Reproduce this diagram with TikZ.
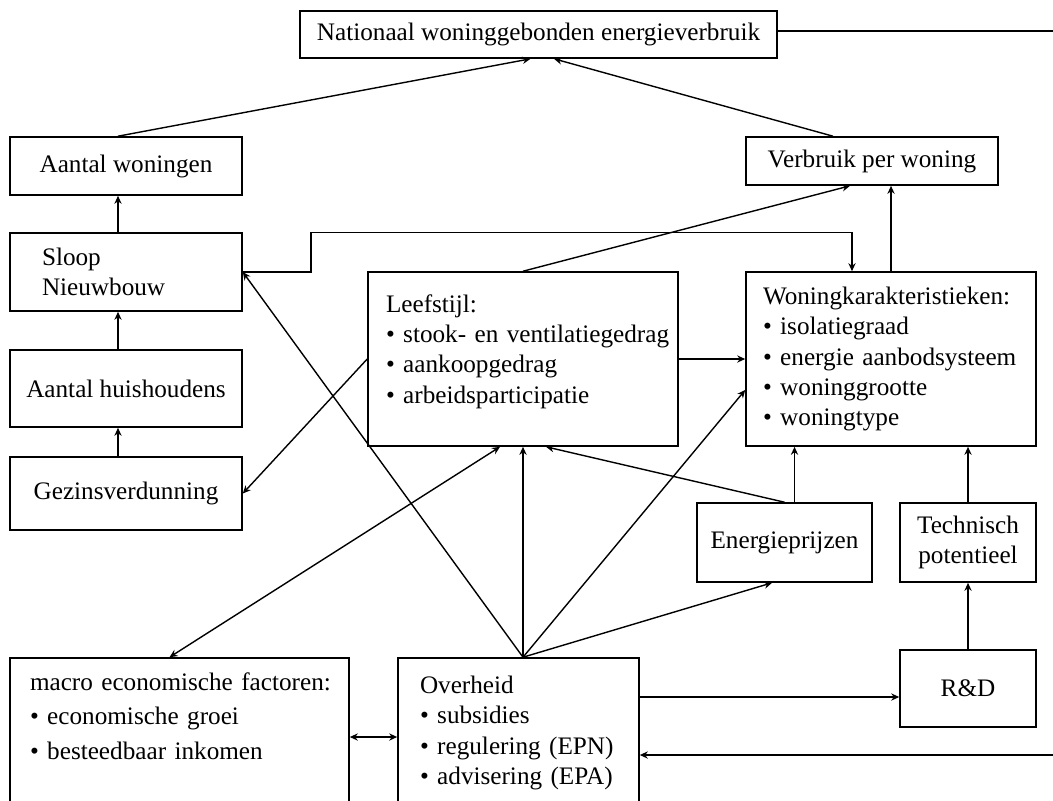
\documentclass[tikz,border=0pt]{standalone}
\usepackage{fontspec}
\setmainfont{Liberation Serif}
\usetikzlibrary{arrows.meta, positioning}

\begin{document}
\begin{tikzpicture}[x=0.5pt, y=-0.5pt,
    every node/.style={font=\fontsize{12.6}{15.2}\selectfont},
    box/.style={draw, line width=0.8pt, inner sep=0pt, align=center},
    listbox/.style={box, align=left},
    >={Stealth[length=4pt, width=3.6pt]}, line width=0.7pt,
  ]
  \useasboundingbox (0,0) rectangle (1053,800);
  \clip (0,0) rectangle (1053,800);
  % boxes
  \node[box, minimum width=238.5pt, minimum height=23.5pt] (nat) at (538.5,34.5) {Nationaal woninggebonden energieverbruik};
  \node[box, minimum width=116pt, minimum height=29pt] (won) at (126,166) {Aantal woningen};
  \node[listbox, text width=84pt, minimum width=116pt, minimum height=39pt] (sloop) at (126,272) {Sloop\\Nieuwbouw};
  \node[box, minimum width=116pt, minimum height=38.5pt] (hh) at (126,388.5) {Aantal huishoudens};
  \node[box, minimum width=116pt, minimum height=36.5pt] (gez) at (126,493.5) {Gezinsverdunning};
  \node[box, minimum width=126pt, minimum height=24pt] (verb) at (872,161) {Verbruik per woning};
  \node[listbox, text width=137pt, minimum width=155pt, minimum height=87pt] (leef) at (523,359) {Leefstijl:\\ \mbox{\textbullet{} stook- en ventilatiegedrag}\\ \textbullet{} aankoopgedrag\\ \textbullet{} arbeidsparticipatie\\[-5pt]\mbox{}};
  \node[listbox, text width=128pt, minimum width=145pt, minimum height=87pt] (kar) at (891,359) {Woningkarakteristieken:\\ \textbullet{} isolatiegraad\\ \mbox{\textbullet{} energie aanbodsysteem}\\ \textbullet{} woninggrootte\\ \textbullet{} woningtype};
  \node[box, minimum width=87.5pt, minimum height=39.5pt] (ep) at (784.5,542.5) {Energieprijzen};
  \node[box, minimum width=68pt, minimum height=39.5pt] (tech) at (968,542.5) {Technisch\\potentieel};
  \node[box, minimum width=68pt, minimum height=38.5pt] (rd) at (968,688.5) {R\&D};
  \node[listbox, text width=149.5pt, minimum width=169.5pt, minimum height=75pt] (macro) at (179.5,733) {\mbox{macro economische factoren:}\\[2pt] \mbox{\textbullet{} economische groei}\\[2pt] \mbox{\textbullet{} besteedbaar inkomen}\\[2pt] \mbox{}};
  \node[listbox, text width=98.5pt, minimum width=120.5pt, minimum height=75pt] (ovh) at (518.5,733) {Overheid\\ \textbullet{} subsidies\\ \mbox{\textbullet{} regulering (EPN)}\\ \mbox{\textbullet{} advisering (EPA)}};
  % helper points
  \coordinate (o) at (leef.south |- ovh.north);
  \coordinate (k1) at ([xshift=-19.5pt]kar.north);
  \coordinate (r1) at ([yshift=-4.25pt]rd.west);
  \coordinate (e1) at (1053,31);
  \coordinate (e2) at (1053,755);
  % arrows
  \draw[->] ([xshift=-4pt]won.north) -- ([xshift=-4pt]nat.south);
  \draw[->] ([xshift=-19.5pt]verb.north) -- ([xshift=7.75pt]nat.south);
  \draw[->] ([xshift=-4pt]sloop.north) -- ([xshift=-4pt]won.south);
  \draw[->] ([xshift=-4pt]hh.north) -- ([xshift=-4pt]sloop.south);
  \draw[->] ([xshift=-4pt]gez.north) -- ([xshift=-4pt]hh.south);
  \draw[->] (leef.north) -- ([xshift=-11pt]verb.south);
  \draw[->] (kar.north) -- (kar.north |- verb.south);
  \draw[->] (sloop.east) -- ++(68,0) |- (k1 |- sloop.north) -- (k1);
  \draw[->] (leef) -- (kar);
  \draw[->] (leef.west) -- (gez.east);
  \draw[->] (o) -- (sloop.east);
  \draw[->] (o) -- (leef.south);
  \draw[->] (o) -- ([yshift=-15.5pt]kar.west);
  \draw[->] (o) -- ([xshift=-6.25pt]ep.south);
  \draw[<->] ([xshift=-5pt]macro.north) -- ([xshift=-11.5pt]leef.south);
  \draw[->] (ep.north) -- ([xshift=11.5pt]leef.south);
  \draw[->] ([xshift=5pt]ep.north) -- ([xshift=5pt]ep.north |- kar.south);
  \draw[->] (tech) -- (tech |- kar.south);
  \draw[->] (rd) -- (tech);
  \draw[->] (ovh.east |- r1) -- (r1);
  \draw (nat.east |- e1) -- (e1);
  \draw[->] (e2) -- (ovh.east |- e2);
  \draw[<->] ([yshift=-2pt]macro.east) -- ([yshift=-2pt]ovh.west);
\end{tikzpicture}
\end{document}
